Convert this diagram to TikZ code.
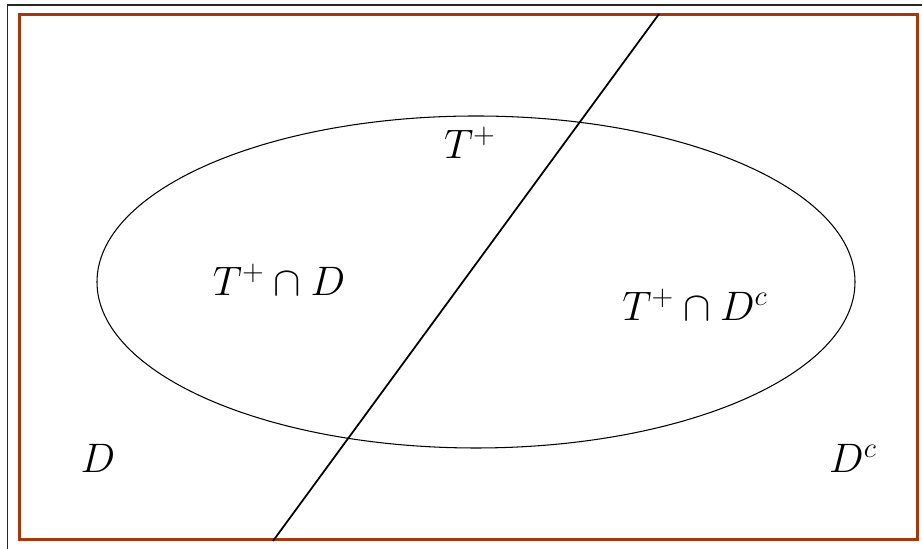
\documentclass[tikz,border=0pt]{standalone}
\usepackage{amsmath,amssymb}
\usepackage{tikz}
\usetikzlibrary{shapes.geometric}
\definecolor{framebrown}{RGB}{165,55,10}

\begin{document}
\begin{tikzpicture}[
  font=\huge,
  outer/.style={draw=black!85, line width=0.6pt},
  univ/.style={draw=framebrown, line width=1.7pt},
  setT/.style={draw, ellipse, line width=0.6pt, minimum width=15.16cm, minimum height=6.64cm, inner sep=0pt},
  cut/.style={draw, line width=1pt},
  lbl/.style={inner sep=0pt, scale=1.13}
]
\useasboundingbox (0,0) rectangle (18.44,10.98);
\clip (0,0) rectangle (18.44,10.98);
\draw[outer] (0.15,-1) rectangle (19,10.88);
\draw[univ] (0.39,0.19) rectangle (18.35,10.68);
\node[setT] (tplus) at (9.52,5.34) {};
\coordinate (ctop) at (13.18,10.70);
\coordinate (cbot) at (5.46,0.16);
\draw[cut] (ctop) -- (cbot);
\node[lbl] (lt)   at (9.40,8.12) {$T^+$};
\node[lbl] (ltd)  at (5.58,5.38) {$T^+\cap D$};
\node[lbl] (ltdc) at (13.90,4.88) {$T^+\cap D^c$};
\node[lbl] (ld)   at (1.96,1.82) {$D$};
\node[lbl] (ldc)  at (17.06,1.82) {$D^c$};
\end{tikzpicture}
\end{document}
